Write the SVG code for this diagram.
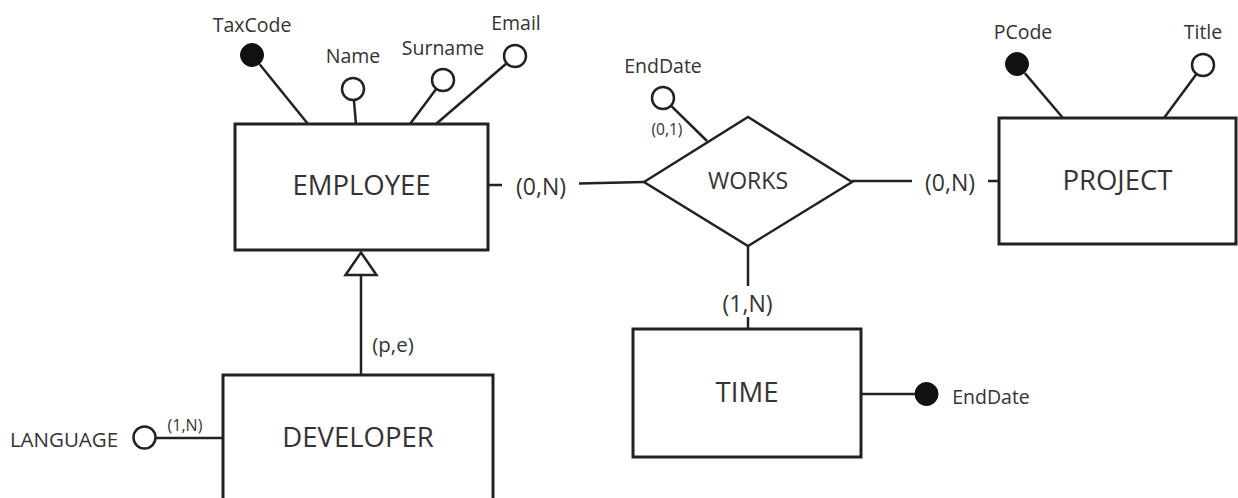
<svg xmlns="http://www.w3.org/2000/svg" width="1238" height="498" viewBox="0 0 1238 498">
<style>
  text { font-family: "Open Sans", "Noto Sans", "Liberation Sans", sans-serif; fill: #333; }
  .ent { font-size: 27.5px; text-anchor: middle; }
  .attr { font-size: 19.5px; text-anchor: middle; }
  .card { font-size: 23px; text-anchor: middle; }
  .small { font-size: 15.5px; text-anchor: middle; }
  .box { fill: #fff; stroke: #222; stroke-width: 3; }
  .ln { stroke: #222; stroke-width: 2.5; fill: none; }
  .hollow { fill: #fff; stroke: #222; stroke-width: 2.5; }
  .solid { fill: #111; stroke: #111; stroke-width: 1; }
</style>
<rect width="1238" height="498" fill="#fff"/>

<g id="connectors">
  <!-- EMPLOYEE attributes -->
  <line class="ln" x1="259.6" y1="64.3" x2="308" y2="124"/>
  <line class="ln" x1="353.9" y1="100" x2="356" y2="124"/>
  <line class="ln" x1="436.4" y1="88.8" x2="410" y2="124"/>
  <line class="ln" x1="506.7" y1="63.2" x2="436" y2="124"/>
  <!-- EMPLOYEE - WORKS -->
  <line class="ln" x1="488" y1="185" x2="502" y2="185"/>
  <line class="ln" x1="579" y1="183.5" x2="644" y2="182"/>
  <!-- WORKS - PROJECT -->
  <line class="ln" x1="852" y1="181" x2="912" y2="181"/>
  <line class="ln" x1="988" y1="181" x2="999" y2="181"/>
  <!-- WORKS attribute -->
  <line class="ln" x1="670.9" y1="105.7" x2="707" y2="141"/>
  <!-- WORKS - TIME -->
  <line class="ln" x1="748" y1="246" x2="748" y2="286"/>
  <line class="ln" x1="748" y1="317" x2="748" y2="329"/>
  <!-- TIME attribute -->
  <line class="ln" x1="861" y1="394" x2="915" y2="394"/>
  <!-- PROJECT attributes -->
  <line class="ln" x1="1024.8" y1="73.1" x2="1063" y2="118"/>
  <line class="ln" x1="1196.5" y1="73.9" x2="1164" y2="118"/>
  <!-- generalization -->
  <line class="ln" x1="361" y1="275" x2="361" y2="375"/>
  <polygon class="hollow" points="361,252.5 345.5,275 376.5,275"/>
  <!-- DEVELOPER attribute -->
  <line class="ln" x1="155.5" y1="438" x2="223" y2="438"/>
</g>

<g id="employee">
  <rect class="box" x="235" y="124" width="253" height="126"/>
  <text class="ent" x="361.5" y="195">EMPLOYEE</text>
</g>
<g id="attr-taxcode">
  <circle class="solid" cx="252" cy="55" r="11.5"/>
  <text class="attr" x="252" y="32">TaxCode</text>
</g>
<g id="attr-name">
  <circle class="hollow" cx="353" cy="89" r="11"/>
  <text class="attr" x="353" y="63">Name</text>
</g>
<g id="attr-surname">
  <circle class="hollow" cx="443" cy="80" r="11"/>
  <text class="attr" x="443" y="55">Surname</text>
</g>
<g id="attr-email">
  <circle class="hollow" cx="515" cy="56" r="11"/>
  <text class="attr" x="516" y="30">Email</text>
</g>

<g id="works">
  <polygon class="box" points="644,182 748,117 852,182 748,246" style="stroke-width:2.5"/>
  <text class="card" x="748" y="189">WORKS</text>
</g>
<g id="attr-works-enddate">
  <circle class="hollow" cx="663" cy="98" r="11"/>
  <text class="attr" x="663" y="73">EndDate</text>
  <text class="small" x="667" y="135">(0,1)</text>
</g>

<g id="card-labels">
  <text class="card" x="541" y="195">(0,N)</text>
  <text class="card" x="950" y="191">(0,N)</text>
  <text class="card" x="747.5" y="311.5">(1,N)</text>
  <text class="attr" x="393" y="352" style="font-size:20.5px">(p,e)</text>
  <text class="small" x="185" y="431" style="font-size:16px">(1,N)</text>
</g>

<g id="project">
  <rect class="box" x="999" y="118" width="237" height="126"/>
  <text class="ent" x="1117.5" y="190">PROJECT</text>
</g>
<g id="attr-pcode">
  <circle class="solid" cx="1017" cy="64" r="11.5"/>
  <text class="attr" x="1023" y="39">PCode</text>
</g>
<g id="attr-title">
  <circle class="hollow" cx="1203" cy="65" r="11"/>
  <text class="attr" x="1203" y="39">Title</text>
</g>

<g id="time">
  <rect class="box" x="633" y="329" width="228" height="128"/>
  <text class="ent" x="747" y="402">TIME</text>
</g>
<g id="attr-time-enddate">
  <circle class="solid" cx="926.5" cy="394" r="11.5"/>
  <text class="attr" x="991" y="404">EndDate</text>
</g>

<g id="developer">
  <rect class="box" x="223" y="375" width="270" height="140"/>
  <text class="ent" x="358" y="447">DEVELOPER</text>
</g>
<g id="attr-language">
  <circle class="hollow" cx="144.5" cy="437.5" r="11"/>
  <text class="attr" x="64" y="447" style="font-size:20.5px">LANGUAGE</text>
</g>
</svg>
